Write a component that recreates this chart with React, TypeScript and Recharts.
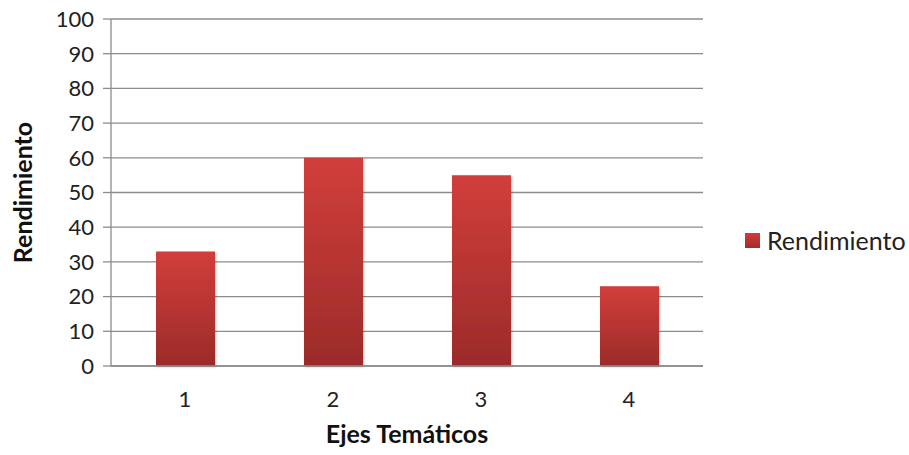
import React from "react"
import { BarChart, CartesianGrid, XAxis, YAxis, Legend, Bar } from "recharts"

const ejes = ["1", "2", "3", "4"]
const rendimiento = [33, 60, 55, 23]
const yTicks = [0, 10, 20, 30, 40, 50, 60, 70, 80, 90, 100]

const data = ejes.map((eje, i) => ({ eje, Rendimiento: rendimiento[i] }))

const font = "Lato, 'Open Sans', sans-serif"
const grey = "#8c8c8c"

const LegendBox = () => (
    <div style={{ display: "flex", alignItems: "center", fontFamily: font, fontSize: 25, color: "#222", whiteSpace: "nowrap" }}>
        <div style={{ width: 15, height: 15, background: "linear-gradient(#d03c3a, #a52c2a)", marginRight: 7 }} />
        <span>Rendimiento</span>
    </div>
)

const App = () => {
    return (
        <div style={{ position: "absolute", left: 0, top: 0, background: "#fff" }}>
            <BarChart width={909} height={455} data={data} margin={{ top: 19, right: 206, bottom: 0, left: 0 }} barCategoryGap="30%">
                <defs>
                    <linearGradient id="barFill" x1="0" y1="0" x2="0" y2="1">
                        <stop offset="0%" stopColor="#d23e3b" />
                        <stop offset="100%" stopColor="#9b2b29" />
                    </linearGradient>
                    <filter id="barShadow" x="-10%" y="-10%" width="130%" height="120%">
                        <feDropShadow dx="1" dy="1" stdDeviation="1.2" floodColor="#000" floodOpacity="0.25" />
                    </filter>
                </defs>
                <CartesianGrid vertical={false} stroke={grey} strokeWidth={1.3} />
                <XAxis
                    dataKey="eje"
                    height={89}
                    axisLine={{ stroke: grey, strokeWidth: 1.3 }}
                    tickLine={false}
                    tickSize={0}
                    tickMargin={25}
                    tick={{ fill: "#222", fontSize: 22, fontFamily: font }}
                    label={{ value: "Ejes Temáticos", position: "insideBottom", offset: 12, fill: "#111", fontSize: 25, fontWeight: 700, fontFamily: font }}
                />
                <YAxis
                    width={111}
                    domain={[0, 100]}
                    ticks={yTicks}
                    interval={0}
                    axisLine={{ stroke: grey, strokeWidth: 1.3 }}
                    tickLine={{ stroke: grey, strokeWidth: 1.3 }}
                    tickSize={8}
                    tickMargin={9}
                    tick={{ fill: "#222", fontSize: 22, fontFamily: font }}
                    label={{ value: "Rendimiento", angle: -90, position: "insideLeft", offset: 23, fill: "#111", fontSize: 25, fontWeight: 700, fontFamily: font, style: { textAnchor: "middle" } }}
                />
                <Legend
                    layout="vertical"
                    align="center"
                    verticalAlign="middle"
                    wrapperStyle={{ left: 745, top: 225, width: "auto" }}
                    content={() => <LegendBox />}
                />
                <Bar dataKey="Rendimiento" fill="url(#barFill)" barSize={59} filter="url(#barShadow)" isAnimationActive={false} />
            </BarChart>
        </div>
    )
}

export default App
